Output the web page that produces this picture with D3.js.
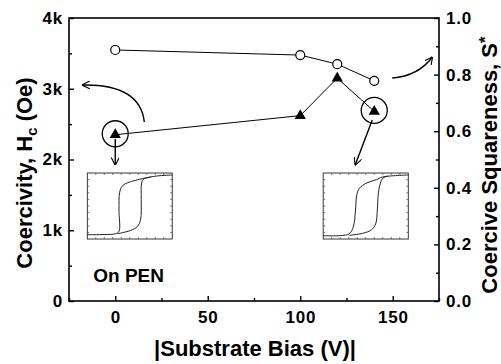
<!DOCTYPE html>
<html>
<head>
<meta charset="utf-8">
<script src="https://cdn.jsdelivr.net/npm/d3@7"></script>
<style>
  body { margin: 0; background: #fff; }
  text { font-family: "Liberation Sans", Arial, sans-serif; font-weight: bold; fill: #000; }
</style>
</head>
<body>
<script>
// substrate bias (V) and the two measured series
var bias = [0, 100, 120, 140];
var coercivity = [2350, 2620, 3150, 2680];
var squareness = [0.887, 0.869, 0.837, 0.778];

// tick labels
var xTicks = [0, 50, 100, 150];
var xMinor = [-25, 25, 75, 125, 175];
var hcTicks = [0, 1000, 2000, 3000, 4000];
var hcLabels = ["0", "1k", "2k", "3k", "4k"];
var hcMinor = [500, 1500, 2500, 3500];
var sqTicks = [0, 0.2, 0.4, 0.6, 0.8, 1.0];
var sqMinor = [0.1, 0.3, 0.5, 0.7, 0.9];

// hysteresis loops of the insets, normalised [u, v] in the inset box
var loopLeftUp = [[0, 0.066], [0.2, 0.068], [0.333, 0.08], [0.373, 0.116], [0.373, 0.44],
                  [0.38, 0.70], [0.41, 0.80], [0.47, 0.85], [0.57, 0.89], [0.667, 0.92],
                  [0.82, 0.955], [1, 0.97]];
var loopLeftDown = [[0.353, 0.08], [0.51, 0.13], [0.59, 0.19], [0.627, 0.29], [0.635, 0.60],
                    [0.64, 0.85], [0.667, 0.91], [0.75, 0.94]];
var loopRightUp = [[0, 0.05], [0.2, 0.052], [0.308, 0.08], [0.356, 0.195], [0.38, 0.44],
                   [0.395, 0.67], [0.427, 0.77], [0.506, 0.846], [0.625, 0.9], [0.70, 0.94],
                   [1, 0.97]];
var loopRightDown = [[0.308, 0.056], [0.466, 0.087], [0.565, 0.138], [0.617, 0.23], [0.636, 0.44],
                     [0.648, 0.69], [0.672, 0.846], [0.70, 0.92], [0.76, 0.955]];

// inset boxes in data units: [bias0, bias1], [hc0, hc1]
var insetLeft = [[-15.1, 30.8], [876, 1809]];
var insetRight = [[112.4, 158.4], [876, 1809]];

// annotation arrows in data units (bias, coercivity)
var curveLeft = [[15.7, 2530], [13.5, 3067], [-17.8, 3053]];
var curveRight = [[149.7, 3152], [163.8, 3180], [171.4, 3449]];
var arrowDownLeft = [[0, 2290], [0, 1922]];
var arrowDownRight = [[138.9, 2558], [129.7, 1922]];

const w = 501;
const h = 364;
const padL = 69, padR = 439, padT = 18, padB = 301;

var svg = d3.select("body").append("svg")
            .attr("width", w)
            .attr("height", h);

var xScale = d3.scaleLinear().domain([-25, 175]).range([padL, padR]);
var yHc = d3.scaleLinear().domain([0, 4000]).range([padB, padT]);
var ySq = d3.scaleLinear().domain([0, 1]).range([padB, padT]);

// open chevron arrow head
svg.append("defs").append("marker")
   .attr("id", "head")
   .attr("viewBox", "0 0 10 10")
   .attr("refX", 9.5)
   .attr("refY", 5)
   .attr("markerWidth", 8)
   .attr("markerHeight", 8)
   .attr("markerUnits", "userSpaceOnUse")
   .attr("orient", "auto")
   .append("path")
   .attr("d", "M0,0 L10,5 L0,10")
   .attr("fill", "none")
   .attr("stroke", "#000")
   .attr("stroke-width", 1.4);

// frame
svg.append("rect")
   .attr("x", padL).attr("y", padT)
   .attr("width", padR - padL).attr("height", padB - padT)
   .attr("fill", "none").attr("stroke", "#000").attr("stroke-width", 1.6);

function styleAxis(g) {
  g.select(".domain").remove();
  g.selectAll("line").attr("stroke", "#000").attr("stroke-width", 1.4);
  g.selectAll("text").style("font-size", "17px").style("letter-spacing", "0.8px");
}

// bottom axis
svg.append("g")
   .attr("transform", "translate(0," + padB + ")")
   .call(d3.axisBottom(xScale).tickValues(xTicks).tickSize(-5).tickPadding(10))
   .call(styleAxis);
svg.append("g")
   .attr("transform", "translate(0," + padB + ")")
   .call(d3.axisBottom(xScale).tickValues(xMinor).tickSize(-3).tickFormat(""))
   .call(styleAxis);

// left axis
svg.append("g")
   .attr("transform", "translate(" + padL + ",0)")
   .call(d3.axisLeft(yHc).tickValues(hcTicks).tickSize(-5).tickPadding(6)
           .tickFormat(function(d, i) { return hcLabels[i]; }))
   .call(styleAxis);
svg.append("g")
   .attr("transform", "translate(" + padL + ",0)")
   .call(d3.axisLeft(yHc).tickValues(hcMinor).tickSize(-3).tickFormat(""))
   .call(styleAxis);

// right axis
svg.append("g")
   .attr("transform", "translate(" + padR + ",0)")
   .call(d3.axisRight(ySq).tickValues(sqTicks).tickSize(-5).tickPadding(7)
           .tickFormat(d3.format(".1f")))
   .call(styleAxis);
svg.append("g")
   .attr("transform", "translate(" + padR + ",0)")
   .call(d3.axisRight(ySq).tickValues(sqMinor).tickSize(-3).tickFormat(""))
   .call(styleAxis);

// axis titles
svg.append("text")
   .attr("x", 255).attr("y", 356)
   .attr("text-anchor", "middle")
   .style("font-size", "22px")
   .text("|Substrate Bias (V)|");

var lt = svg.append("text")
   .attr("transform", "translate(32,173) rotate(-90)")
   .attr("text-anchor", "middle")
   .style("font-size", "22px");
lt.append("tspan").text("Coercivity, H");
lt.append("tspan").attr("dy", 5).style("font-size", "15px").text("c");
lt.append("tspan").attr("dy", -5).text(" (Oe)");

var rt = svg.append("text")
   .attr("transform", "translate(497,165) rotate(-90)")
   .attr("text-anchor", "middle")
   .style("font-size", "22px");
rt.append("tspan").text("Coercive Squareness, S");
rt.append("tspan").attr("dy", -6).style("font-size", "17px").text("*");

// "On PEN" note
svg.append("text")
   .attr("x", xScale(-11.9)).attr("y", yHc(270))
   .style("font-size", "19px")
   .text("On PEN");

// insets with hysteresis loops
function drawInset(box, up, down) {
  var ix = d3.scaleLinear().range([xScale(box[0][0]), xScale(box[0][1])]);
  var iy = d3.scaleLinear().range([yHc(box[1][0]), yHc(box[1][1])]);
  var g = svg.append("g");
  g.append("rect")
   .attr("x", ix(0)).attr("y", iy(1))
   .attr("width", ix(1) - ix(0)).attr("height", iy(0) - iy(1))
   .attr("fill", "#fff").attr("stroke", "#222").attr("stroke-width", 0.9);
  var ticks = d3.range(0.1, 1, 0.1);
  ticks.forEach(function(t) {
    g.append("line").attr("x1", ix(t)).attr("x2", ix(t)).attr("y1", iy(0)).attr("y2", iy(0) - 2);
    g.append("line").attr("x1", ix(t)).attr("x2", ix(t)).attr("y1", iy(1)).attr("y2", iy(1) + 2);
    g.append("line").attr("x1", ix(0)).attr("x2", ix(0) + 2).attr("y1", iy(t)).attr("y2", iy(t));
    g.append("line").attr("x1", ix(1)).attr("x2", ix(1) - 2).attr("y1", iy(t)).attr("y2", iy(t));
  });
  g.selectAll("line").attr("stroke", "#444").attr("stroke-width", 0.7);
  var line = d3.line()
               .x(function(d) { return ix(d[0]); })
               .y(function(d) { return iy(d[1]); })
               .curve(d3.curveCatmullRom);
  [up, down].forEach(function(p) {
    g.append("path").attr("d", line(p))
     .attr("fill", "none").attr("stroke", "#222").attr("stroke-width", 1);
  });
}
drawInset(insetLeft, loopLeftUp, loopLeftDown);
drawInset(insetRight, loopRightUp, loopRightDown);

// connecting lines
var hcLine = d3.line()
               .x(function(d, i) { return xScale(bias[i]); })
               .y(function(d) { return yHc(d); });
var sqLine = d3.line()
               .x(function(d, i) { return xScale(bias[i]); })
               .y(function(d) { return ySq(d); });
svg.append("path").attr("d", sqLine(squareness))
   .attr("fill", "none").attr("stroke", "#000").attr("stroke-width", 1);
svg.append("path").attr("d", hcLine(coercivity))
   .attr("fill", "none").attr("stroke", "#000").attr("stroke-width", 1);

// open circles for squareness
svg.selectAll("circle.sq")
   .data(squareness)
   .enter()
   .append("circle")
   .attr("class", "sq")
   .attr("cx", function(d, i) { return xScale(bias[i]); })
   .attr("cy", function(d) { return ySq(d); })
   .attr("r", 4.5)
   .attr("fill", "#fff")
   .attr("stroke", "#000")
   .attr("stroke-width", 1.2);

// filled triangles for coercivity
svg.selectAll("path.hc")
   .data(coercivity)
   .enter()
   .append("path")
   .attr("class", "hc")
   .attr("d", d3.symbol().type(d3.symbolTriangle).size(55))
   .attr("transform", function(d, i) {
     return "translate(" + xScale(bias[i]) + "," + yHc(d) + ")";
   })
   .attr("fill", "#000");

// highlight rings around first and last triangle
[0, 3].forEach(function(i) {
  svg.append("circle")
     .attr("cx", xScale(bias[i]))
     .attr("cy", yHc(coercivity[i]) - 1)
     .attr("r", 13)
     .attr("fill", "none")
     .attr("stroke", "#000")
     .attr("stroke-width", 1.3);
});

// annotation arrows
function curvePath(c) {
  var p = c.map(function(d) { return [xScale(d[0]), yHc(d[1])]; });
  return "M" + p[0] + " Q" + p[1] + " " + p[2];
}
[curveLeft, curveRight].forEach(function(c) {
  svg.append("path").attr("d", curvePath(c))
     .attr("fill", "none").attr("stroke", "#000").attr("stroke-width", 1.4)
     .attr("marker-end", "url(#head)");
});
[arrowDownLeft, arrowDownRight].forEach(function(a) {
  svg.append("line")
     .attr("x1", xScale(a[0][0])).attr("y1", yHc(a[0][1]))
     .attr("x2", xScale(a[1][0])).attr("y2", yHc(a[1][1]))
     .attr("stroke", "#000").attr("stroke-width", 1.4)
     .attr("marker-end", "url(#head)");
});
</script>
</body>
</html>
